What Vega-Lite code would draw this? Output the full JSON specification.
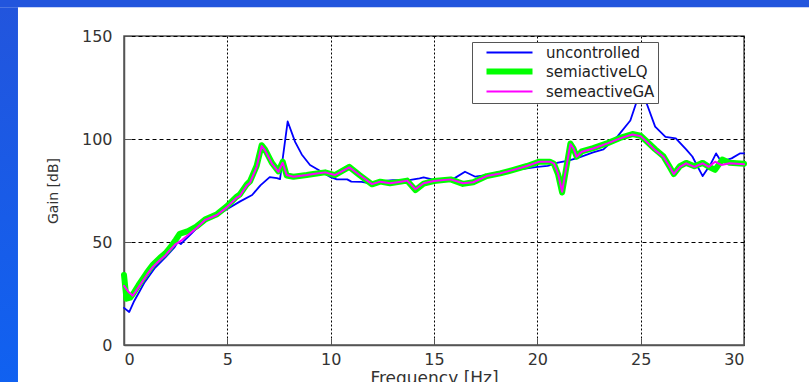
{
  "$schema": "https://vega.github.io/schema/vega-lite/v6.json",
  "width": 620,
  "height": 309,
  "autosize": "none",
  "padding": {"left": 124, "top": 36, "right": 65, "bottom": 37},
  "background": "white",
  "datasets": {
    "uncontrolled": [
      {"f":0,"gain":18,"series":"uncontrolled"},{"f":0.25,"gain":16,"series":"uncontrolled"},{"f":0.5,"gain":21.5,"series":"uncontrolled"},{"f":0.75,"gain":26,"series":"uncontrolled"},{"f":1,"gain":30.5,"series":"uncontrolled"},{"f":1.5,"gain":37.5,"series":"uncontrolled"},{"f":2,"gain":42.5,"series":"uncontrolled"},{"f":2.45,"gain":47.5,"series":"uncontrolled"},{"f":2.6,"gain":50,"series":"uncontrolled"},{"f":2.75,"gain":49,"series":"uncontrolled"},{"f":2.95,"gain":51,"series":"uncontrolled"},{"f":3.2,"gain":53.5,"series":"uncontrolled"},{"f":3.5,"gain":56.5,"series":"uncontrolled"},{"f":4,"gain":60.5,"series":"uncontrolled"},{"f":4.5,"gain":63,"series":"uncontrolled"},{"f":5,"gain":66,"series":"uncontrolled"},{"f":5.6,"gain":69.6,"series":"uncontrolled"},{"f":6.2,"gain":72.8,"series":"uncontrolled"},{"f":6.6,"gain":77.5,"series":"uncontrolled"},{"f":7.05,"gain":81.5,"series":"uncontrolled"},{"f":7.4,"gain":81,"series":"uncontrolled"},{"f":7.55,"gain":80.5,"series":"uncontrolled"},{"f":7.7,"gain":92,"series":"uncontrolled"},{"f":7.92,"gain":108.5,"series":"uncontrolled"},{"f":8.28,"gain":98.6,"series":"uncontrolled"},{"f":8.6,"gain":92.5,"series":"uncontrolled"},{"f":9,"gain":87.4,"series":"uncontrolled"},{"f":9.5,"gain":84.5,"series":"uncontrolled"},{"f":10,"gain":81.5,"series":"uncontrolled"},{"f":10.3,"gain":80.4,"series":"uncontrolled"},{"f":10.8,"gain":80.4,"series":"uncontrolled"},{"f":11,"gain":79.3,"series":"uncontrolled"},{"f":11.5,"gain":79.2,"series":"uncontrolled"},{"f":11.9,"gain":78.5,"series":"uncontrolled"},{"f":12.5,"gain":79.5,"series":"uncontrolled"},{"f":13,"gain":80,"series":"uncontrolled"},{"f":13.8,"gain":80,"series":"uncontrolled"},{"f":14.3,"gain":80.9,"series":"uncontrolled"},{"f":14.5,"gain":81.4,"series":"uncontrolled"},{"f":15,"gain":80.2,"series":"uncontrolled"},{"f":15.5,"gain":80,"series":"uncontrolled"},{"f":16,"gain":81,"series":"uncontrolled"},{"f":16.5,"gain":84.1,"series":"uncontrolled"},{"f":17,"gain":81.7,"series":"uncontrolled"},{"f":17.5,"gain":82.5,"series":"uncontrolled"},{"f":18.2,"gain":84,"series":"uncontrolled"},{"f":19,"gain":85,"series":"uncontrolled"},{"f":20,"gain":86.5,"series":"uncontrolled"},{"f":20.5,"gain":87,"series":"uncontrolled"},{"f":21,"gain":88.5,"series":"uncontrolled"},{"f":21.5,"gain":89.5,"series":"uncontrolled"},{"f":22,"gain":91,"series":"uncontrolled"},{"f":22.7,"gain":93.5,"series":"uncontrolled"},{"f":23.2,"gain":95,"series":"uncontrolled"},{"f":23.9,"gain":101.5,"series":"uncontrolled"},{"f":24.5,"gain":109,"series":"uncontrolled"},{"f":24.8,"gain":118,"series":"uncontrolled"},{"f":25.05,"gain":121,"series":"uncontrolled"},{"f":25.3,"gain":117,"series":"uncontrolled"},{"f":25.7,"gain":106,"series":"uncontrolled"},{"f":26.2,"gain":101,"series":"uncontrolled"},{"f":26.7,"gain":100.3,"series":"uncontrolled"},{"f":27.2,"gain":95,"series":"uncontrolled"},{"f":27.5,"gain":91.5,"series":"uncontrolled"},{"f":28,"gain":82,"series":"uncontrolled"},{"f":28.4,"gain":88,"series":"uncontrolled"},{"f":28.65,"gain":93,"series":"uncontrolled"},{"f":28.9,"gain":89,"series":"uncontrolled"},{"f":29.4,"gain":90.6,"series":"uncontrolled"},{"f":29.8,"gain":93,"series":"uncontrolled"},{"f":30,"gain":93,"series":"uncontrolled"}
    ],
    "lq": [
      {"f":0,"gain":34,"series":"semiactiveLQ"},{"f":0.12,"gain":22.5,"series":"semiactiveLQ"},{"f":0.3,"gain":23,"series":"semiactiveLQ"},{"f":0.45,"gain":25,"series":"semiactiveLQ"},{"f":0.7,"gain":29,"series":"semiactiveLQ"},{"f":1.1,"gain":35,"series":"semiactiveLQ"},{"f":1.4,"gain":39,"series":"semiactiveLQ"},{"f":1.74,"gain":42.3,"series":"semiactiveLQ"},{"f":2,"gain":44.5,"series":"semiactiveLQ"},{"f":2.23,"gain":47.2,"series":"semiactiveLQ"},{"f":2.5,"gain":51,"series":"semiactiveLQ"},{"f":2.7,"gain":54,"series":"semiactiveLQ"},{"f":3.1,"gain":55.3,"series":"semiactiveLQ"},{"f":3.5,"gain":57.5,"series":"semiactiveLQ"},{"f":3.92,"gain":60.9,"series":"semiactiveLQ"},{"f":4.5,"gain":63.5,"series":"semiactiveLQ"},{"f":4.97,"gain":67.3,"series":"semiactiveLQ"},{"f":5.45,"gain":72,"series":"semiactiveLQ"},{"f":5.6,"gain":73,"series":"semiactiveLQ"},{"f":5.94,"gain":78,"series":"semiactiveLQ"},{"f":6.1,"gain":79.5,"series":"semiactiveLQ"},{"f":6.42,"gain":87,"series":"semiactiveLQ"},{"f":6.66,"gain":97,"series":"semiactiveLQ"},{"f":6.82,"gain":95,"series":"semiactiveLQ"},{"f":7.15,"gain":88.5,"series":"semiactiveLQ"},{"f":7.47,"gain":84.3,"series":"semiactiveLQ"},{"f":7.68,"gain":89,"series":"semiactiveLQ"},{"f":7.87,"gain":82.3,"series":"semiactiveLQ"},{"f":8.2,"gain":81.7,"series":"semiactiveLQ"},{"f":8.84,"gain":82.5,"series":"semiactiveLQ"},{"f":9.16,"gain":83,"series":"semiactiveLQ"},{"f":9.73,"gain":83.8,"series":"semiactiveLQ"},{"f":10.2,"gain":82.5,"series":"semiactiveLQ"},{"f":10.9,"gain":86.5,"series":"semiactiveLQ"},{"f":11.4,"gain":82.5,"series":"semiactiveLQ"},{"f":12,"gain":78,"series":"semiactiveLQ"},{"f":12.4,"gain":79.3,"series":"semiactiveLQ"},{"f":12.87,"gain":78.5,"series":"semiactiveLQ"},{"f":13.4,"gain":79.3,"series":"semiactiveLQ"},{"f":13.7,"gain":79.8,"series":"semiactiveLQ"},{"f":14.1,"gain":75.2,"series":"semiactiveLQ"},{"f":14.5,"gain":78.3,"series":"semiactiveLQ"},{"f":15,"gain":79.6,"series":"semiactiveLQ"},{"f":15.8,"gain":80.4,"series":"semiactiveLQ"},{"f":16.4,"gain":78.2,"series":"semiactiveLQ"},{"f":16.9,"gain":79,"series":"semiactiveLQ"},{"f":17.55,"gain":82,"series":"semiactiveLQ"},{"f":18.2,"gain":83.3,"series":"semiactiveLQ"},{"f":18.8,"gain":84.9,"series":"semiactiveLQ"},{"f":19.5,"gain":86.9,"series":"semiactiveLQ"},{"f":20.1,"gain":89,"series":"semiactiveLQ"},{"f":20.6,"gain":89,"series":"semiactiveLQ"},{"f":20.8,"gain":88,"series":"semiactiveLQ"},{"f":21,"gain":83,"series":"semiactiveLQ"},{"f":21.2,"gain":74,"series":"semiactiveLQ"},{"f":21.35,"gain":83,"series":"semiactiveLQ"},{"f":21.6,"gain":97.8,"series":"semiactiveLQ"},{"f":21.75,"gain":95.4,"series":"semiactiveLQ"},{"f":21.9,"gain":91.4,"series":"semiactiveLQ"},{"f":22.15,"gain":94,"series":"semiactiveLQ"},{"f":22.7,"gain":95.6,"series":"semiactiveLQ"},{"f":23.4,"gain":98,"series":"semiactiveLQ"},{"f":24,"gain":100.5,"series":"semiactiveLQ"},{"f":24.6,"gain":102.4,"series":"semiactiveLQ"},{"f":25,"gain":101.6,"series":"semiactiveLQ"},{"f":25.3,"gain":98.8,"series":"semiactiveLQ"},{"f":25.7,"gain":95,"series":"semiactiveLQ"},{"f":26.1,"gain":91.6,"series":"semiactiveLQ"},{"f":26.4,"gain":86.5,"series":"semiactiveLQ"},{"f":26.6,"gain":83,"series":"semiactiveLQ"},{"f":26.9,"gain":86.8,"series":"semiactiveLQ"},{"f":27.2,"gain":88.4,"series":"semiactiveLQ"},{"f":27.6,"gain":86.8,"series":"semiactiveLQ"},{"f":28,"gain":88.4,"series":"semiactiveLQ"},{"f":28.3,"gain":86.5,"series":"semiactiveLQ"},{"f":28.6,"gain":85,"series":"semiactiveLQ"},{"f":28.95,"gain":90,"series":"semiactiveLQ"},{"f":29.3,"gain":88.5,"series":"semiactiveLQ"},{"f":30,"gain":88,"series":"semiactiveLQ"}
    ],
    "ga": [
      {"f":0,"gain":28.7,"series":"semeactiveGA"},{"f":0.2,"gain":26,"series":"semeactiveGA"},{"f":0.42,"gain":23.9,"series":"semeactiveGA"},{"f":0.7,"gain":28,"series":"semeactiveGA"},{"f":1.1,"gain":34,"series":"semeactiveGA"},{"f":1.4,"gain":38,"series":"semeactiveGA"},{"f":1.74,"gain":41.3,"series":"semeactiveGA"},{"f":2,"gain":43.5,"series":"semeactiveGA"},{"f":2.23,"gain":46.2,"series":"semeactiveGA"},{"f":2.5,"gain":49,"series":"semeactiveGA"},{"f":2.75,"gain":50.5,"series":"semeactiveGA"},{"f":3.1,"gain":53.4,"series":"semeactiveGA"},{"f":3.5,"gain":56.7,"series":"semeactiveGA"},{"f":3.92,"gain":60.7,"series":"semeactiveGA"},{"f":4.5,"gain":63.1,"series":"semeactiveGA"},{"f":4.97,"gain":66.8,"series":"semeactiveGA"},{"f":5.45,"gain":71.5,"series":"semeactiveGA"},{"f":5.6,"gain":72.3,"series":"semeactiveGA"},{"f":5.94,"gain":77.5,"series":"semeactiveGA"},{"f":6.1,"gain":78.8,"series":"semeactiveGA"},{"f":6.42,"gain":86.5,"series":"semeactiveGA"},{"f":6.66,"gain":96.6,"series":"semeactiveGA"},{"f":6.82,"gain":94.6,"series":"semeactiveGA"},{"f":7.15,"gain":88.2,"series":"semeactiveGA"},{"f":7.47,"gain":84.1,"series":"semeactiveGA"},{"f":7.68,"gain":88.5,"series":"semeactiveGA"},{"f":7.87,"gain":82.5,"series":"semeactiveGA"},{"f":8.2,"gain":81.7,"series":"semeactiveGA"},{"f":8.84,"gain":82.5,"series":"semeactiveGA"},{"f":9.16,"gain":83,"series":"semeactiveGA"},{"f":9.73,"gain":83.8,"series":"semeactiveGA"},{"f":10.2,"gain":82.5,"series":"semeactiveGA"},{"f":10.9,"gain":86.2,"series":"semeactiveGA"},{"f":11.4,"gain":82.5,"series":"semeactiveGA"},{"f":12,"gain":78.1,"series":"semeactiveGA"},{"f":12.4,"gain":79.3,"series":"semeactiveGA"},{"f":12.87,"gain":78.5,"series":"semeactiveGA"},{"f":13.4,"gain":79.3,"series":"semeactiveGA"},{"f":13.7,"gain":79.8,"series":"semeactiveGA"},{"f":14.1,"gain":75.6,"series":"semeactiveGA"},{"f":14.5,"gain":78.5,"series":"semeactiveGA"},{"f":15,"gain":79.6,"series":"semeactiveGA"},{"f":15.8,"gain":80.4,"series":"semeactiveGA"},{"f":16.4,"gain":78.5,"series":"semeactiveGA"},{"f":16.9,"gain":79,"series":"semeactiveGA"},{"f":17.55,"gain":82,"series":"semeactiveGA"},{"f":18.2,"gain":83.3,"series":"semeactiveGA"},{"f":18.8,"gain":84.9,"series":"semeactiveGA"},{"f":19.5,"gain":86.9,"series":"semeactiveGA"},{"f":20.1,"gain":89,"series":"semeactiveGA"},{"f":20.6,"gain":89,"series":"semeactiveGA"},{"f":20.8,"gain":88.2,"series":"semeactiveGA"},{"f":21,"gain":83.3,"series":"semeactiveGA"},{"f":21.2,"gain":74.4,"series":"semeactiveGA"},{"f":21.35,"gain":83.3,"series":"semeactiveGA"},{"f":21.6,"gain":97.5,"series":"semeactiveGA"},{"f":21.75,"gain":95.4,"series":"semeactiveGA"},{"f":21.9,"gain":91.4,"series":"semeactiveGA"},{"f":22.15,"gain":93.8,"series":"semeactiveGA"},{"f":22.7,"gain":95.4,"series":"semeactiveGA"},{"f":23.4,"gain":97.9,"series":"semeactiveGA"},{"f":24,"gain":100.3,"series":"semeactiveGA"},{"f":24.6,"gain":102.2,"series":"semeactiveGA"},{"f":25,"gain":101.4,"series":"semeactiveGA"},{"f":25.3,"gain":98.6,"series":"semeactiveGA"},{"f":25.7,"gain":94.6,"series":"semeactiveGA"},{"f":26.1,"gain":91.4,"series":"semeactiveGA"},{"f":26.4,"gain":86.5,"series":"semeactiveGA"},{"f":26.6,"gain":83,"series":"semeactiveGA"},{"f":26.9,"gain":86.5,"series":"semeactiveGA"},{"f":27.2,"gain":88.2,"series":"semeactiveGA"},{"f":27.6,"gain":86.5,"series":"semeactiveGA"},{"f":28,"gain":88.2,"series":"semeactiveGA"},{"f":28.3,"gain":86.5,"series":"semeactiveGA"},{"f":28.6,"gain":89,"series":"semeactiveGA"},{"f":28.9,"gain":87.4,"series":"semeactiveGA"},{"f":29.3,"gain":88.2,"series":"semeactiveGA"},{"f":30,"gain":87.8,"series":"semeactiveGA"}
    ]
  },
  "config": {
    "view": {"stroke": "#555555", "strokeWidth": 1.5, "fill": "white"},
    "font": "DejaVu Sans",
    "axis": {
      "grid": true,
      "labelFont": "DejaVu Sans", "labelFontSize": 16, "labelColor": "#333333",
      "titleFont": "DejaVu Sans", "titleFontWeight": "normal", "titleColor": "#333333",
      "domainColor": "#555555", "domainWidth": 1.5,
      "tickColor": "#555555", "tickSize": -7, "tickWidth": 1,
      "gridColor": "#000000", "gridOpacity": 1, "gridWidth": 1
    },
    "axisX": {"gridDash": [2, 2], "labelPadding": 13},
    "axisY": {"gridDash": [4, 3], "labelPadding": 19},
    "legend": {
      "orient": "none", "legendX": 348, "legendY": 6,
      "fillColor": "white", "strokeColor": "#555555", "padding": 3,
      "labelFont": "DejaVu Sans", "labelFontSize": 15, "labelColor": "#222222", "labelLimit": 400,
      "symbolType": "M-7.667,0H7.667", "symbolSize": 36, "symbolOffset": 27,
      "labelOffset": 29, "rowPadding": -2
    }
  },
  "layer": [
    {
      "data": {"values": [{}]},
      "mark": {"type": "rect", "color": "#2255dd"},
      "encoding": {
        "x": {"datum": -20, "type": "quantitative", "scale": {"domain": [0, 30], "nice": false},
          "axis": {"grid": true, "values": [0, 5, 10, 15, 20, 25, 30], "title": "Frequency [Hz]", "titleFontSize": 17, "titleX": 310, "titleY": 25, "titleAlign": "center", "titleBaseline": "top"}},
        "x2": {"datum": 40},
        "y": {"datum": 163.9, "type": "quantitative", "scale": {"domain": [0, 150], "nice": false},
          "axis": {"grid": true, "values": [0, 50, 100, 150], "title": "Gain [dB]", "titleFontSize": 14, "titleX": -71, "titleY": 154.5, "titleAngle": -90, "titleAlign": "center", "titleBaseline": "middle"}},
        "y2": {"datum": 300}
      }
    },
    {
      "data": {"values": [{}]},
      "mark": {"type": "rect", "color": {"gradient": "linear", "x1": 0, "y1": 0, "x2": 0, "y2": 1, "stops": [{"offset": 0, "color": "#2255dd"}, {"offset": 1, "color": "#0f62f2"}]}},
      "encoding": {
        "x": {"datum": -20, "type": "quantitative"},
        "x2": {"datum": -5.13},
        "y": {"datum": 163.9, "type": "quantitative"},
        "y2": {"datum": -30}
      }
    },
    {
      "data": {"name": "uncontrolled"},
      "mark": {"type": "line", "strokeJoin": "round", "strokeCap": "round", "strokeWidth": 1.8},
      "encoding": {
        "x": {"field": "f", "type": "quantitative"},
        "y": {"field": "gain", "type": "quantitative"},
        "color": {"field": "series", "type": "nominal",
          "scale": {"domain": ["uncontrolled", "semiactiveLQ", "semeactiveGA"], "range": ["#0000ff", "#00ff00", "#ff00ff"]},
          "legend": {"title": null,
            "encode": {"symbols": {"update": {"strokeWidth": {"signal": "datum.value === 'semiactiveLQ' ? 6 : 2"}}}}}}
      }
    },
    {
      "data": {"name": "lq"},
      "mark": {"type": "line", "strokeJoin": "round", "strokeCap": "round", "strokeWidth": 6},
      "encoding": {
        "x": {"field": "f", "type": "quantitative"},
        "y": {"field": "gain", "type": "quantitative"},
        "color": {"field": "series", "type": "nominal"}
      }
    },
    {
      "data": {"name": "ga"},
      "mark": {"type": "line", "strokeJoin": "round", "strokeCap": "round", "strokeWidth": 2},
      "encoding": {
        "x": {"field": "f", "type": "quantitative"},
        "y": {"field": "gain", "type": "quantitative"},
        "color": {"field": "series", "type": "nominal"}
      }
    }
  ]
}
